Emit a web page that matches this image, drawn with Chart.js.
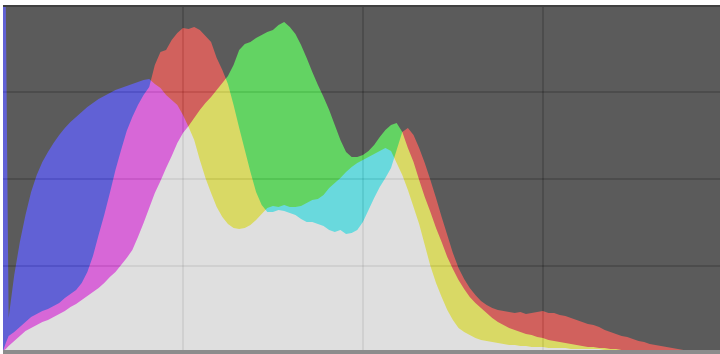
<!DOCTYPE html>
<html>
<head>
<meta charset="utf-8">
<script src="https://cdn.jsdelivr.net/npm/chart.js@4.4.0/dist/chart.umd.min.js"></script>
<style>
  html, body { margin: 0; padding: 0; background: #fff; }
  #wrap { width: 720px; height: 354px; position: relative; }
</style>
</head>
<body>
<div id="wrap"><canvas id="histo"></canvas></div>
<script>
// histogram bins: 0, 1, then every second level up to 254
var bins = [0, 1];
for (var b = 2; b < 256; b += 2) bins.push(b);

// channel counts per bin
var red = [2, 10,
  17, 21, 26, 31, 36, 39, 42, 44, 47, 50,
  55, 59, 63, 70, 81, 97, 118, 138, 160, 183,
  203, 222, 236, 248, 258, 266, 288, 301, 303, 313,
  320, 325, 324, 326, 323, 317, 311, 295, 283, 269,
  248, 225, 203, 181, 161, 148, 141, 141, 143, 142,
  140, 138, 134, 131, 131, 129, 127, 123, 121, 123,
  119, 120, 123, 131, 143, 155, 166, 175, 185, 203,
  221, 225, 218, 205, 190, 173, 155, 136, 118, 100,
  85, 74, 65, 58, 52, 48, 45, 43, 42, 41,
  40, 41, 39, 40, 41, 42, 40, 40, 38, 37,
  35, 33, 31, 29, 28, 26, 23, 21, 19, 17,
  16, 14, 12, 11, 9, 8, 7, 6, 5, 4,
  3, 2, 2, 1, 1, 1, 1];

var green = [2, 4,
  7, 12, 17, 22, 25, 28, 31, 33, 36, 39,
  42, 46, 49, 53, 57, 61, 65, 70, 76, 81,
  88, 95, 103, 116, 130, 145, 160, 172, 185, 197,
  210, 220, 227, 235, 243, 250, 256, 263, 270, 277,
  288, 303, 309, 311, 315, 318, 321, 323, 328, 331,
  326, 319, 308, 295, 281, 268, 256, 243, 228, 213,
  201, 196, 196, 198, 202, 208, 216, 223, 228, 230,
  221, 205, 191, 173, 156, 141, 125, 111, 96, 84,
  73, 64, 56, 50, 45, 40, 35, 31, 28, 25,
  23, 21, 19, 18, 16, 15, 13, 12, 11, 10,
  9, 8, 7, 6, 6, 5, 5, 4, 4, 3,
  3, 3, 2, 2, 2, 2, 2, 2, 2, 1,
  1, 1, 1, 1, 1, 1, 1];

var blue = [348, 348,
  35, 78, 111, 138, 161, 178, 191, 201, 210, 218,
  225, 231, 236, 241, 246, 250, 254, 257, 260, 263,
  265, 267, 269, 271, 273, 274, 269, 265, 258, 253,
  248, 238, 226, 213, 193, 175, 160, 146, 136, 129,
  125, 124, 125, 128, 133, 139, 145, 147, 146, 148,
  146, 146, 147, 150, 153, 154, 158, 165, 170, 175,
  181, 186, 190, 193, 196, 199, 202, 205, 202, 190,
  178, 163, 146, 129, 108, 87, 70, 56, 43, 33,
  25, 21, 18, 15, 13, 12, 11, 10, 9, 8,
  8, 7, 7, 6, 6, 6, 5, 5, 5, 5,
  4, 4, 4, 4, 4, 4, 3, 3, 3, 3,
  3, 3, 3, 3, 3, 2, 2, 2, 2, 2,
  2, 2, 2, 2, 2, 2, 2];

var xGrid = [64, 128, 192];
var yGrid = [87, 174, 261];

function points(values) {
  return values.map(function(v, i) { return { x: bins[i], y: v }; });
}

function channel(values, color) {
  return {
    data: points(values),
    backgroundColor: color,
    borderColor: 'rgba(0,0,0,0)',
    borderWidth: 0,
    pointRadius: 0,
    tension: 0,
    fill: 'origin'
  };
}

// channels are added on top of each other, so overlaps mix like light
var histoPlugin = {
  id: 'histoPlugin',
  beforeDraw: function(chart) {
    var a = chart.chartArea, ctx = chart.ctx;
    ctx.save();
    ctx.fillStyle = 'rgb(91,91,91)';
    ctx.fillRect(a.left, a.top, a.right - a.left, a.bottom - a.top);
    ctx.restore();
  },
  beforeDatasetsDraw: function(chart) {
    chart.ctx.save();
    chart.ctx.globalCompositeOperation = 'lighter';
  },
  afterDatasetsDraw: function(chart) {
    chart.ctx.restore();
  },
  afterDraw: function(chart) {
    var a = chart.chartArea, ctx = chart.ctx;
    ctx.save();
    ctx.fillStyle = '#404040';
    ctx.fillRect(a.left, a.top, a.right - a.left, 2);
    ctx.fillStyle = '#8c8c8c';
    ctx.fillRect(a.left, 350, a.right - a.left, 4);
    ctx.restore();
  }
};

var ctx = document.getElementById('histo').getContext('2d');
var chart = new Chart(ctx, {
  type: 'line',
  data: {
    datasets: [
      channel(red, 'rgb(118,6,2)'),
      channel(green, 'rgb(8,120,8)'),
      channel(blue, 'rgb(6,6,122)')
    ]
  },
  options: {
    responsive: true,
    maintainAspectRatio: false,
    animation: false,
    events: [],
    layout: { padding: { left: 3, top: 5, right: 0, bottom: 1 } },
    plugins: { legend: { display: false }, tooltip: { enabled: false } },
    scales: {
      x: {
        type: 'linear', min: 0, max: 255,
        ticks: { display: false },
        grid: { color: 'rgba(0,0,0,0.16)', lineWidth: 2, drawTicks: false },
        border: { display: false },
        afterBuildTicks: function(s) { s.ticks = xGrid.map(function(v) { return { value: v }; }); },
        afterFit: function(s) { s.height = 0; }
      },
      y: {
        min: 0, max: 348,
        ticks: { display: false },
        grid: { color: 'rgba(0,0,0,0.16)', lineWidth: 2, drawTicks: false },
        border: { display: false },
        afterBuildTicks: function(s) { s.ticks = yGrid.map(function(v) { return { value: v }; }); },
        afterFit: function(s) { s.width = 0; }
      }
    }
  },
  plugins: [histoPlugin]
});
</script>
</body>
</html>
